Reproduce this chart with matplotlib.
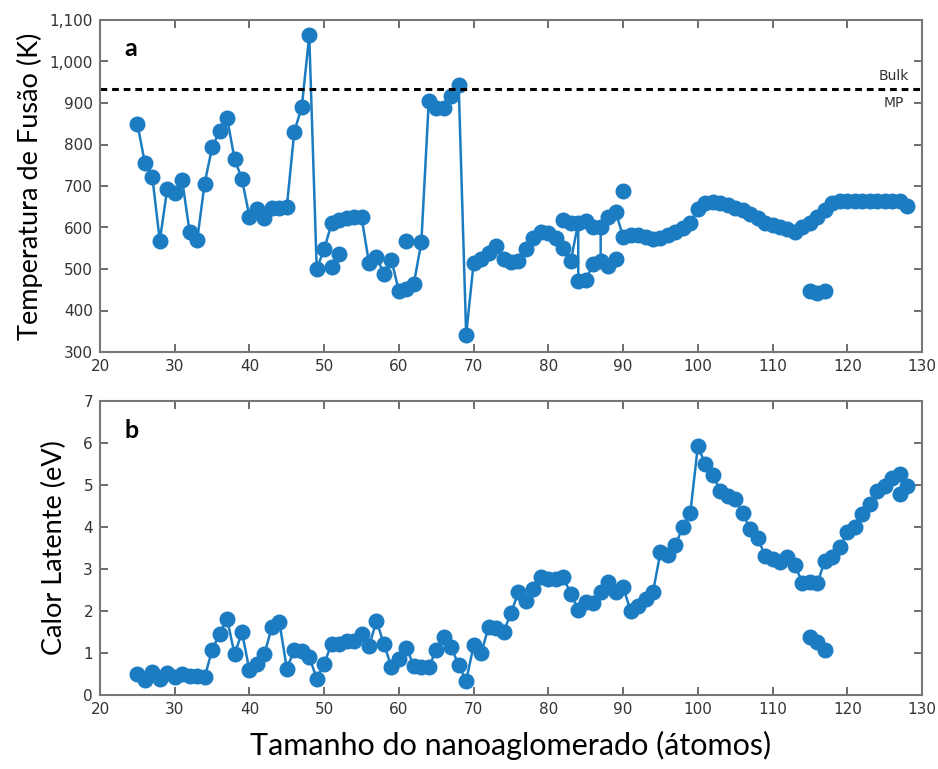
import numpy as np
import matplotlib
matplotlib.use("Agg")
import matplotlib.pyplot as plt
from matplotlib.ticker import FuncFormatter, MultipleLocator

# Fusion temperature (K) vs cluster size, main connected series
tm_size = [25, 26, 27, 28, 29, 30, 31, 32, 33, 34, 35, 36, 37, 38, 39, 40,
           41, 42, 43, 44, 45, 46, 47, 48, 49, 50, 51, 52, 53, 54, 55, 56,
           57, 58, 59, 60, 61, 62, 63, 64, 65, 66, 67, 68, 69, 70, 71, 72,
           73, 74, 75, 76, 77, 78, 79, 80, 81, 82, 83, 84, 84, 85, 86, 87,
           87, 88, 89, 90, 91, 92, 93, 94, 95, 96, 97, 98, 99, 100, 101, 102,
           103, 104, 105, 106, 107, 108, 109, 110, 111, 112, 113, 114, 115,
           116, 117, 118, 119, 120, 121, 122, 123, 124, 125, 126, 127, 128]
tm_vals = [850, 756, 722, 568, 693, 683, 714, 588, 569, 706, 793, 832, 864,
           766, 716, 626, 645, 622, 648, 648, 650, 831, 890, 1063, 500, 548,
           610, 618, 622, 626, 625, 514, 530, 488, 522, 446, 452, 465, 564,
           905, 888, 888, 918, 943, 342, 515, 523, 539, 555, 525, 518, 520,
           548, 575, 588, 586, 575, 551, 519, 612, 472, 474, 512, 519, 602,
           626, 638, 578, 582, 582, 578, 572, 575, 582, 590, 598, 610, 645,
           659, 661, 660, 655, 648, 642, 633, 622, 612, 607, 602, 596, 590,
           600, 612, 626, 642, 660, 665, 665, 665, 665, 665, 665, 665, 665,
           665, 652]

# isolated extra points (second transitions / isomers)
tm_extra_size = [51, 52, 61, 82, 83, 85, 86, 88, 89, 90]
tm_extra_vals = [504, 537, 567, 618, 610, 616, 602, 508, 523, 689]
tm_low_size = [115, 116, 117]
tm_low_vals = [448, 443, 448]

bulk_mp = 933

# Latent heat (eV) vs cluster size
lh_size = list(range(25, 129))
lh_vals = [0.50, 0.36, 0.55, 0.38, 0.53, 0.42, 0.49, 0.45, 0.46, 0.42,
           1.07, 1.46, 1.82, 0.97, 1.49, 0.59, 0.73, 0.97, 1.62, 1.74,
           0.63, 1.07, 1.05, 0.91, 0.39, 0.75, 1.22, 1.21, 1.29, 1.29,
           1.45, 1.16, 1.76, 1.21, 0.67, 0.85, 1.13, 0.69, 0.67, 0.66,
           1.08, 1.38, 1.14, 0.71, 0.34, 1.18, 0.99, 1.62, 1.60, 1.50,
           1.95, 2.45, 2.24, 2.53, 2.80, 2.76, 2.76, 2.80, 2.41, 2.03,
           2.21, 2.19, 2.45, 2.69, 2.45, 2.57, 2.01, 2.13, 2.29, 2.45,
           3.40, 3.33, 3.57, 4.00, 4.34, 5.92, 5.50, 5.25, 4.86, 4.74,
           4.66, 4.34, 3.95, 3.74, 3.32, 3.24, 3.16, 3.29, 3.10, 2.66,
           2.68, 2.66, 3.20, 3.28, 3.53, 3.87, 3.99, 4.32, 4.54, 4.86,
           4.98, 5.16, 5.27, 4.98]
lh_low_size = [115, 116, 117]
lh_low_vals = [1.38, 1.26, 1.07]
lh_extra_size = [127]
lh_extra_vals = [4.78]

blue = "#1c7cc2"
tick_font = ["Liberation Sans Narrow", "DejaVu Sans"]
label_font = ["Lato", "DejaVu Sans"]

fig = plt.figure(figsize=(9.38, 7.69), dpi=100)
ax1 = fig.add_axes([100 / 938, 1 - 352 / 769, 822 / 938, 332 / 769])
ax2 = fig.add_axes([100 / 938, 1 - 695 / 769, 822 / 938, 294 / 769])

mk = dict(color=blue, marker="o", markersize=10.5, linewidth=1.8)

ax1.plot(tm_size, tm_vals, **mk)
ax1.plot(tm_low_size, tm_low_vals, **mk)
ax1.plot(tm_extra_size, tm_extra_vals, linestyle="none", marker="o",
         markersize=10.5, color=blue)
ax1.axhline(bulk_mp, color="black", linestyle=(0, (2.2, 1.6)), linewidth=2.2)
ax1.text(126.2, bulk_mp + 16, "Bulk", ha="center", va="bottom",
         fontsize=10, color="#333333", family=tick_font)
ax1.text(126.2, bulk_mp - 16, "MP", ha="center", va="top",
         fontsize=10, color="#333333", family=tick_font)
ax1.set_ylim(300, 1100)
ax1.yaxis.set_major_locator(MultipleLocator(100))
ax1.yaxis.set_major_formatter(FuncFormatter(lambda v, p: f"{int(v):,}"))
ax1.set_ylabel("Temperatura de Fusão (K)", fontsize=19.5, family=label_font,
               labelpad=5)
ax1.text(0.03, 0.95, "a", transform=ax1.transAxes, fontsize=18,
         fontweight="bold", va="top", family=label_font)

ax2.plot(lh_size, lh_vals, **mk)
ax2.plot(lh_low_size, lh_low_vals, **mk)
ax2.plot(lh_extra_size, lh_extra_vals, linestyle="none", marker="o",
         markersize=10.5, color=blue)
ax2.set_ylim(0, 7)
ax2.yaxis.set_major_locator(MultipleLocator(1))
ax2.set_ylabel("Calor Latente (eV)", fontsize=19.5, family=label_font,
               labelpad=12)
ax2.set_xlabel("Tamanho do nanoaglomerado (átomos)", fontsize=22,
               family=label_font, labelpad=10)
ax2.text(0.03, 0.94, "b", transform=ax2.transAxes, fontsize=18,
         fontweight="bold", va="top", family=label_font)

for ax in (ax1, ax2):
    ax.set_xlim(20, 130)
    ax.xaxis.set_major_locator(MultipleLocator(10))
    ax.tick_params(direction="in", length=6, width=1.2, color="#555555",
                   top=True, right=True, labelsize=11, labelcolor="#333333",
                   pad=5)
    for lab in ax.get_xticklabels() + ax.get_yticklabels():
        lab.set_family(tick_font)
    for s in ax.spines.values():
        s.set_color("#777777")
        s.set_linewidth(1.5)

fig.savefig("out.png", dpi=100)
